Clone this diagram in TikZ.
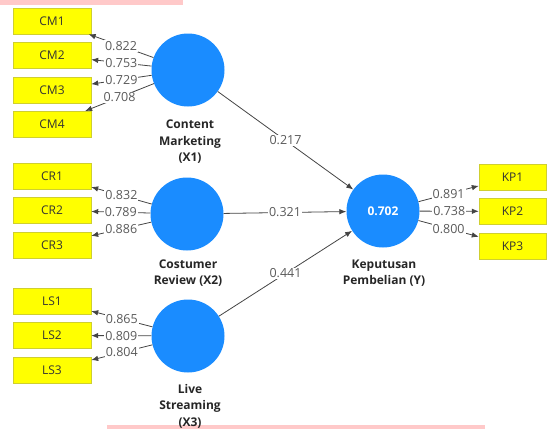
\documentclass[tikz,border=0pt]{standalone}
\usepackage{fontspec}
\setmainfont{Open Sans}
\usepackage{tikz}
\usetikzlibrary{arrows.meta,positioning}
\usepackage{xcolor}
\definecolor{plsblue}{HTML}{1A8CFF}
\definecolor{plsyellow}{HTML}{FFFF00}
\definecolor{plsedge}{HTML}{CFCF30}
\definecolor{plsline}{HTML}{444444}
\definecolor{plstext}{HTML}{5A5A5A}
\definecolor{plspink}{HTML}{FFC9C9}
\tikzset{
  latent/.style={
    circle,
    fill=plsblue,
    draw=none,
    minimum size=73pt,
    inner sep=0pt,
    text=white,
    font=\fontsize{12}{14}\selectfont\bfseries
  },
  latentname/.style={
    align=center,
    font=\fontsize{12}{16.5}\selectfont\bfseries,
    text=black!85
  },
  indicator/.style={
    rectangle,
    draw=plsedge,
    fill=plsyellow,
    minimum width=78pt,
    minimum height=26pt,
    inner sep=0pt,
    text=black!80,
    font=\fontsize{12}{14}\selectfont
  },
  weight/.style={
    fill=white,
    inner sep=1pt,
    text=plstext,
    font=\fontsize{12.5}{14}\selectfont
  },
  arrow/.style={
    -{Latex[length=7pt,width=5.5pt]},
    line width=0.8pt,
    draw=plsline
  }
}

\begin{document}
\begin{tikzpicture}[x=1pt,y=-1pt,node distance=8pt and 8pt]
\useasboundingbox (0,0) rectangle (547,429);
% screenshot remnants
\fill[plspink] (0,0) rectangle (183,5);
\fill[plspink] (107,425) rectangle (485,428.5);

% latent variables
\node[latent] (cm) at (188,70) {};
\node[latent] (cr) at (187,214) {};
\node[latent] (ls) at (188,336) {};
\node[latent] (kp) at (383,211) {0.702};
\node[latentname] (cmname) at (190,142) {Content\\Marketing\\(X1)};
\node[latentname] (crname) at (188,273) {Costumer\\Review (X2)};
\node[latentname] (lsname) at (190,406) {Live\\Streaming\\(X3)};
\node[latentname] (kpname) at (384,273) {Keputusan\\Pembelian (Y)};

% indicators
\node[indicator] (cm1) at (52,21) {CM1};
\node[indicator, below=of cm1] (cm2) {CM2};
\node[indicator, below=of cm2] (cm3) {CM3};
\node[indicator, below=of cm3] (cm4) {CM4};
\node[indicator] (cr1) at (52,176) {CR1};
\node[indicator, below=of cr1] (cr2) {CR2};
\node[indicator, below=of cr2] (cr3) {CR3};
\node[indicator] (ls1) at (52,301) {LS1};
\node[indicator, below=of ls1] (ls2) {LS2};
\node[indicator, below=of ls2] (ls3) {LS3};
\node[indicator, minimum width=67pt] (kp1) at (512.5,177) {KP1};
\node[indicator, minimum width=67pt, below=of kp1] (kp2) {KP2};
\node[indicator, minimum width=67pt, below=of kp2] (kp3) {KP3};

% outer loadings
\draw[arrow] (cm) -- node[weight] {0.822} (cm1);
\draw[arrow] (cm) -- node[weight] {0.753} (cm2);
\draw[arrow] (cm) -- node[weight] {0.729} (cm3);
\draw[arrow] (cm) -- node[weight] {0.708} (cm4);
\draw[arrow] (cr) -- node[weight] {0.832} (cr1);
\draw[arrow] (cr) -- node[weight] {0.789} (cr2);
\draw[arrow] (cr) -- node[weight] {0.886} (cr3);
\draw[arrow] (ls) -- node[weight] {0.865} (ls1);
\draw[arrow] (ls) -- node[weight] {0.809} (ls2);
\draw[arrow] (ls) -- node[weight] {0.804} (ls3);
\draw[arrow] (kp) -- node[weight] {0.891} (kp1);
\draw[arrow] (kp) -- node[weight] {0.738} (kp2);
\draw[arrow] (kp) -- node[weight] {0.800} (kp3);

% path coefficients
\draw[arrow] (cm) -- node[weight] {0.217} (kp);
\draw[arrow] (cr) -- node[weight] {0.321} (kp);
\draw[arrow] (ls) -- node[weight] {0.441} (kp);
\end{tikzpicture}
\end{document}
